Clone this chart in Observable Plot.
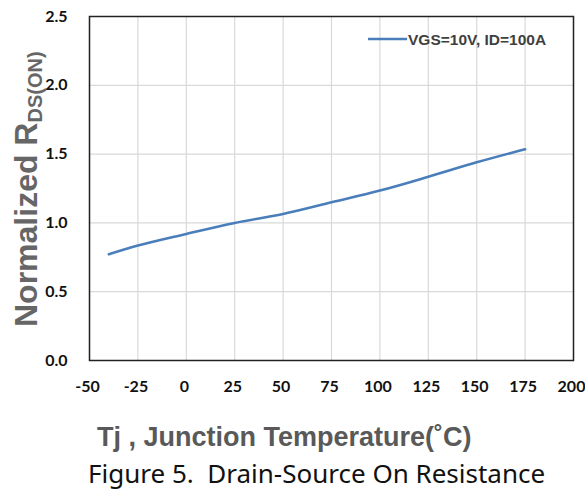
<!DOCTYPE html>
<html><head><meta charset="utf-8">
<script src="https://cdn.jsdelivr.net/npm/d3@7"></script>
<script src="https://cdn.jsdelivr.net/npm/@observablehq/plot@0.6"></script>
<style>
body{margin:0;background:#fff;width:585px;height:493px;overflow:hidden}
#cap{position:absolute;left:0;top:455px;width:585px;font-family:"Noto Sans","Open Sans",sans-serif;font-size:26px;line-height:normal;color:#111;}
#cap span{position:absolute;left:88px;top:0;white-space:pre}
</style></head><body>
<div id="chart"></div>
<div id="cap"><span>Figure 5.  Drain-Source On Resistance</span></div>
<script>
const temps = [-40, -25, 0, 25, 50, 75, 100, 125, 150, 175];
const rdson = [0.772, 0.835, 0.92, 1.0, 1.065, 1.15, 1.235, 1.335, 1.44, 1.535];
const xTicks = [-50, -25, 0, 25, 50, 75, 100, 125, 150, 175, 200];
const yTicks = [0, 0.5, 1.0, 1.5, 2.0, 2.5];
const seriesName = "VGS=10V, ID=100A";
const xTitle = "Tj , Junction Temperature(˚C)";
const yTitle = "Normalized R";
const ySub = "DS(ON)";

const data = temps.map((t, i) => ({t, r: rdson[i]}));
const color = "#4a7ebb";

const plot = Plot.plot({
  width: 585, height: 455,
  marginLeft: 89, marginRight: 12, marginTop: 16, marginBottom: 95,
  style: {fontFamily: "Lato, sans-serif", fontWeight: "bold", fontSize: "16px", color: "#111", background: "#fff"},
  x: {domain: [-50, 200], label: null},
  y: {domain: [0, 2.5], label: null},
  marks: [
    Plot.gridX(xTicks, {stroke: "#d9d9d9", strokeOpacity: 1, strokeWidth: 1.2}),
    Plot.gridY(yTicks, {stroke: "#d9d9d9", strokeOpacity: 1, strokeWidth: 1.2}),
    Plot.frame({stroke: "#222", strokeWidth: 1.5}),
    Plot.line(data, {x: "t", y: "r", stroke: color, strokeWidth: 2.6, curve: "monotone-x"}),
    Plot.axisX({ticks: xTicks, tickSize: 0, tickPadding: 20, fontSize: 16, dx: -2, tickFormat: d => String(d), label: null}),
    Plot.axisY({ticks: yTicks, tickSize: 0, tickPadding: 22, tickFormat: d3.format(".1f"), fontSize: 16, label: null})
  ]
});
document.getElementById("chart").appendChild(plot);

const svg = d3.select(plot);
// legend
const lg = svg.append("g");
lg.append("line").attr("x1", 368).attr("x2", 407).attr("y1", 39).attr("y2", 39)
  .attr("stroke", color).attr("stroke-width", 2.6);
lg.append("text").attr("x", 408).attr("y", 45).attr("text-anchor", "start").text(seriesName)
  .attr("font-family", "Liberation Sans, Arial, sans-serif").attr("font-weight", "bold")
  .attr("font-size", 15.5).attr("fill", "#3f3f3f");
// x title
svg.append("text").attr("x", 97).attr("y", 446).attr("text-anchor", "start").text(xTitle)
  .attr("font-family", "Liberation Sans, Arial, sans-serif").attr("font-weight", "bold")
  .attr("font-size", 27).attr("fill", "#595959");
// y title
const yt = svg.append("text").attr("transform", "translate(37,327) rotate(-90)")
  .attr("text-anchor", "start")
  .attr("font-family", "'Liberation Sans Narrow', 'Liberation Sans', Arial, sans-serif").attr("font-weight", "bold")
  .attr("font-size", 32).attr("fill", "#666");
yt.append("tspan").text(yTitle);
yt.append("tspan").attr("font-size", 20).attr("dy", 5).text(ySub);
</script>
</body></html>
